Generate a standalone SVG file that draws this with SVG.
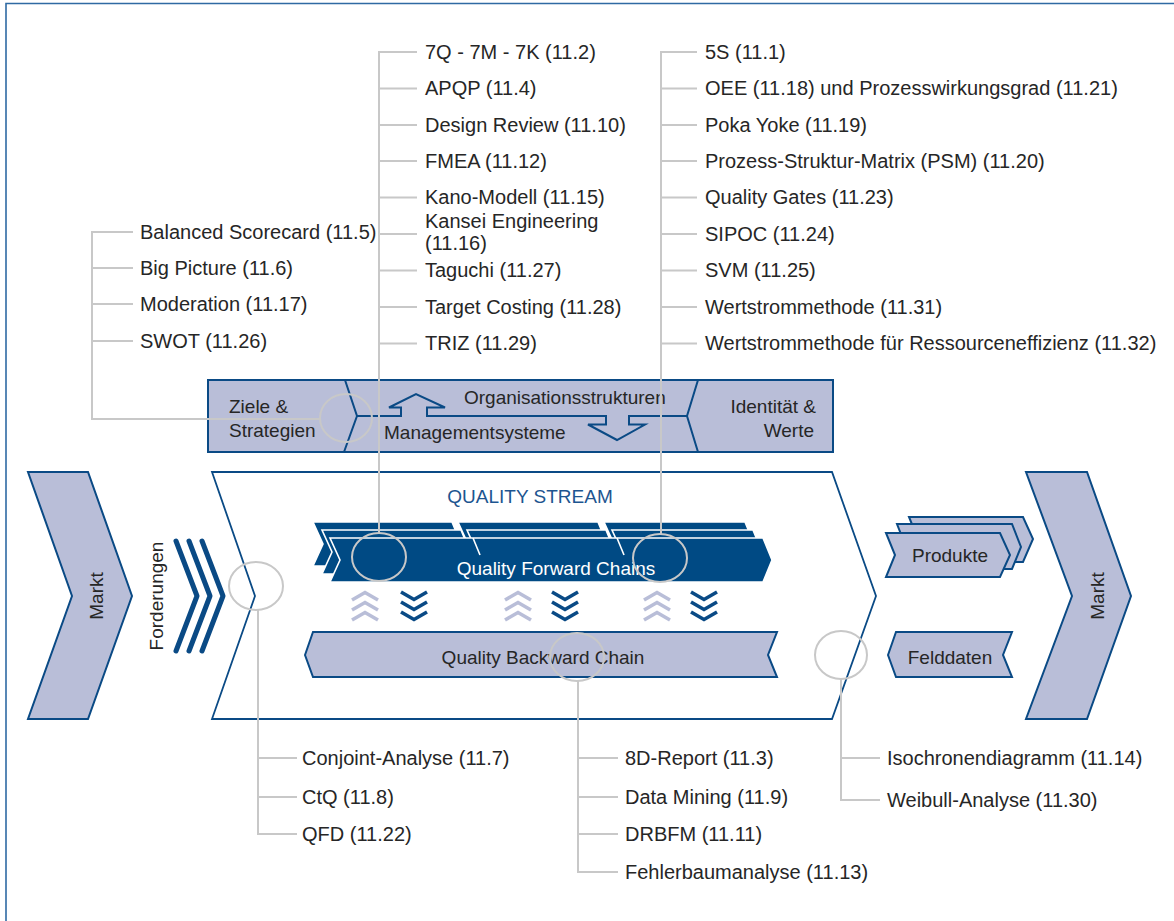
<svg xmlns="http://www.w3.org/2000/svg" width="1174" height="921" viewBox="0 0 1174 921">
<defs>
<style>
text{font-family:"Liberation Sans",Arial,Helvetica,sans-serif;fill:#262626;font-size:19px}
.li{font-size:20px}
.lav{fill:#b9bed8;stroke:#0a4a85;stroke-width:2;stroke-linejoin:miter}
.dk{fill:#004a84;stroke:#ffffff;stroke-width:1.6}
.gl{fill:none;stroke:#c8c8c8;stroke-width:2}
.up{fill:none;stroke:#b9bed8;stroke-width:3.6}
.dn{fill:none;stroke:#0a4a85;stroke-width:3.6}
.mid{text-anchor:middle}
.end{text-anchor:end}
</style>
<path id="chevUp" d="M-13,4 L0,-3.5 L13,4"/>
<path id="chevDn" d="M-13,-4 L0,3.5 L13,-4"/>
</defs>
<rect width="1174" height="921" fill="#ffffff"/>
<path d="M6,921 V3.5 H1174" fill="none" stroke="#2f6aa3" stroke-width="1.6"/>

<g id="markt-left">
<polygon class="lav" points="28,472 88,472 132,596 88,719 28,719 72,596"/>
<text class="mid" font-size="17" transform="translate(103,596) rotate(-90)">Markt</text>
</g>

<g id="forderungen">
<text class="mid" font-size="18" transform="translate(163,596) rotate(-90)">Forderungen</text>
<g fill="none" stroke="#0a4a85" stroke-width="5" stroke-linecap="round" stroke-linejoin="round">
<polyline points="176,541 197,596 176,651"/>
<polyline points="189,541 210,596 189,651"/>
<polyline points="202,541 223,596 202,651"/>
</g>
</g>

<g id="band">
<rect class="lav" x="208" y="380" width="625" height="72"/>
<g fill="none" stroke="#0a4a85" stroke-width="2" stroke-linejoin="miter">
<polyline points="345,380 357,416 344,452"/>
<polyline points="698,380 687,416 698,452"/>
<polyline points="357,416 401,416 401,407.5 389,407.5 416,394 445,407.5 427,407.5 427,416 606,416 606,424.5 588,424.5 617,440 645,424.5 629,424.5 629,416 687,416"/>
</g>
<text x="229" y="413">Ziele &amp;</text>
<text x="229" y="437">Strategien</text>
<text x="464" y="404" font-size="19.2">Organisationsstrukturen</text>
<text x="384" y="439" font-size="19.5">Managementsysteme</text>
<text class="end" x="816" y="413">Identität &amp;</text>
<text class="end" x="814" y="437">Werte</text>
</g>

<g id="quality-stream">
<polygon points="212,472 832,472 876,596 832,719 212,719 255,596" fill="#ffffff" stroke="#0a4a85" stroke-width="1.8"/>
<text class="mid" x="530" y="503" font-size="18" style="fill:#1d5590">QUALITY STREAM</text>
</g>

<g id="forward-chains">
<polygon class="dk" points="313,522 452,522 461,544 452,566 313,566 323,544"/>
<polygon class="dk" points="458,522 598,522 607,544 598,566 458,566 468,544"/>
<polygon class="dk" points="604,522 745,522 754,544 745,566 604,566 614,544"/>
<polygon class="dk" points="322,530 461,530 470,552 461,574 322,574 332,552"/>
<polygon class="dk" points="467,530 606,530 615,552 606,574 467,574 477,552"/>
<polygon class="dk" points="612,530 753,530 762,552 753,574 612,574 622,552"/>
<polygon class="dk" points="330,538 763,538 772,560 763,582 330,582 340,560"/>
<g stroke="#ffffff" stroke-width="1.6" fill="none">
<polyline points="473,538 480,555"/>
<polyline points="617,538 624,555"/>
</g>
<text class="mid" x="556" y="575" font-size="19.5" style="fill:#ffffff">Quality Forward Chains</text>
</g>

<g id="exchange-arrows">
<g class="up">
<use href="#chevUp" x="365" y="596"/><use href="#chevUp" x="365" y="606"/><use href="#chevUp" x="365" y="616"/>
<use href="#chevUp" x="518" y="596"/><use href="#chevUp" x="518" y="606"/><use href="#chevUp" x="518" y="616"/>
<use href="#chevUp" x="657" y="596"/><use href="#chevUp" x="657" y="606"/><use href="#chevUp" x="657" y="616"/>
</g>
<g class="dn">
<use href="#chevDn" x="414" y="596"/><use href="#chevDn" x="414" y="606"/><use href="#chevDn" x="414" y="616"/>
<use href="#chevDn" x="565" y="596"/><use href="#chevDn" x="565" y="606"/><use href="#chevDn" x="565" y="616"/>
<use href="#chevDn" x="704" y="596"/><use href="#chevDn" x="704" y="606"/><use href="#chevDn" x="704" y="616"/>
</g>
</g>

<g id="backward-chain">
<polygon class="lav" points="305,655 313,632 777,632 768,655 777,677 313,677"/>
<text class="mid" x="543" y="664">Quality Backward Chain</text>
</g>

<g id="produkte">
<polygon class="lav" points="909,517 1023,517 1033,539 1023,562 909,562 918,539"/>
<polygon class="lav" points="897,524 1012,524 1021,547 1012,569 897,569 906,547"/>
<polygon class="lav" points="886,533 1000,533 1010,555 1000,577 886,577 895,555"/>
<text class="mid" x="950" y="562">Produkte</text>
</g>

<g id="felddaten">
<polygon class="lav" points="888,655 896,632 1012,632 1003,655 1012,677 896,677"/>
<text class="mid" x="950" y="664">Felddaten</text>
</g>

<g id="markt-right">
<polygon class="lav" points="1026,472 1087,472 1131,596 1087,719 1026,719 1072,596"/>
<text class="mid" font-size="17" transform="translate(1104,596) rotate(-90)">Markt</text>
</g>

<g id="connectors">
<path class="gl" d="M133,232 H92 V419 H320 M92,268 H133 M92,304 H133 M92,341 H133"/>
<path class="gl" d="M417,52 H379 V533 M379,88.5 H417 M379,125 H417 M379,161 H417 M379,197.5 H417 M379,234 H417 M379,270.5 H417 M379,307 H417 M379,343.5 H417"/>
<path class="gl" d="M697,52 H661 V534 M661,88.5 H697 M661,125 H697 M661,161 H697 M661,197.5 H697 M661,234 H697 M661,270.5 H697 M661,307 H697 M661,343.5 H697"/>
<path class="gl" d="M258,610 V834 H297 M258,758 H297 M258,797 H297"/>
<path class="gl" d="M578,681 V872 H618 M578,758 H618 M578,797 H618 M578,834 H618"/>
<path class="gl" d="M841,679 V800 H880 M841,758 H880"/>
<ellipse class="gl" cx="346" cy="418" rx="26" ry="24"/>
<ellipse class="gl" cx="256" cy="586" rx="27" ry="24"/>
<ellipse class="gl" cx="379" cy="557" rx="27" ry="24"/>
<ellipse class="gl" cx="660" cy="558" rx="27" ry="24"/>
<ellipse class="gl" cx="577" cy="657" rx="27" ry="24"/>
<ellipse class="gl" cx="841" cy="655" rx="26" ry="24"/>
</g>

<g id="list-ziele" class="li">
<text class="li" x="140" y="239">Balanced Scorecard (11.5)</text>
<text class="li" x="140" y="275">Big Picture (11.6)</text>
<text class="li" x="140" y="311">Moderation (11.17)</text>
<text class="li" x="140" y="348">SWOT (11.26)</text>
</g>

<g id="list-forward-1">
<text class="li" x="425" y="59">7Q - 7M - 7K (11.2)</text>
<text class="li" x="425" y="95">APQP (11.4)</text>
<text class="li" x="425" y="132">Design Review (11.10)</text>
<text class="li" x="425" y="168">FMEA (11.12)</text>
<text class="li" x="425" y="204">Kano-Modell (11.15)</text>
<text class="li" x="425" y="228">Kansei Engineering</text>
<text class="li" x="425" y="250">(11.16)</text>
<text class="li" x="425" y="277">Taguchi (11.27)</text>
<text class="li" x="425" y="314">Target Costing (11.28)</text>
<text class="li" x="425" y="350">TRIZ (11.29)</text>
</g>

<g id="list-forward-2">
<text class="li" x="705" y="59">5S (11.1)</text>
<text class="li" x="705" y="95">OEE (11.18) und Prozesswirkungsgrad (11.21)</text>
<text class="li" x="705" y="132">Poka Yoke (11.19)</text>
<text class="li" x="705" y="168">Prozess-Struktur-Matrix (PSM) (11.20)</text>
<text class="li" x="705" y="204">Quality Gates (11.23)</text>
<text class="li" x="705" y="241">SIPOC (11.24)</text>
<text class="li" x="705" y="277">SVM (11.25)</text>
<text class="li" x="705" y="314">Wertstrommethode (11.31)</text>
<text class="li" x="705" y="350">Wertstrommethode für Ressourceneffizienz (11.32)</text>
</g>

<g id="list-forderungen">
<text class="li" x="302" y="765">Conjoint-Analyse (11.7)</text>
<text class="li" x="302" y="804">CtQ (11.8)</text>
<text class="li" x="302" y="841">QFD (11.22)</text>
</g>

<g id="list-backward">
<text class="li" x="625" y="765">8D-Report (11.3)</text>
<text class="li" x="625" y="804">Data Mining (11.9)</text>
<text class="li" x="625" y="841">DRBFM (11.11)</text>
<text class="li" x="625" y="879">Fehlerbaumanalyse (11.13)</text>
</g>

<g id="list-felddaten">
<text class="li" x="887" y="765">Isochronendiagramm (11.14)</text>
<text class="li" x="887" y="807">Weibull-Analyse (11.30)</text>
</g>
</svg>
